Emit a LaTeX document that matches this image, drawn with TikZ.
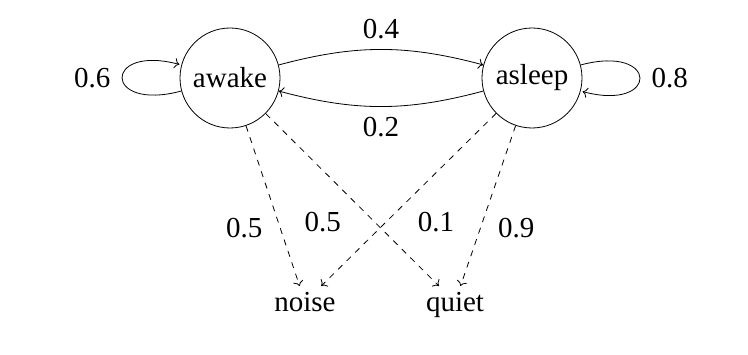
\documentclass[tikz,border=0pt]{standalone}
\usepackage{fontspec}
\setmainfont{Liberation Serif}
\usetikzlibrary{arrows.meta}

\begin{document}
\begin{tikzpicture}[x=0.5pt, y=0.5pt, every node/.style={font=\fontsize{14.5}{17}\selectfont}]
  \tikzset{
      state/.style={circle, draw, minimum size=50pt, inner sep=0pt},
      obs/.style={inner sep=3.3pt, text height=9pt, text depth=0pt},
      trans/.style={->, bend left=15},
      emit/.style={->, dashed}
  }
  \useasboundingbox (0,0) rectangle (748,354);

  \node[state] (awake)  at (230, 276) {awake};
  \node[state] (asleep) at (532, 276) {asleep};
  \node[obs, anchor=base] (noise) at (305, 43) {noise};
  \node[obs, anchor=base] (quiet) at (455, 43) {quiet};

  % transitions
  \draw[->] (awake)  edge[loop left]  node[xshift=-2.5pt] {0.6} ();
  \draw[->] (asleep) edge[loop right] node[xshift=2.5pt] {0.8} ();
  \draw[trans] (awake)  to node[above, yshift=1.5pt] {0.4} (asleep);
  \draw[trans] (asleep) to node[below, yshift=-2pt] {0.2} (awake);

  % emissions
  \draw[emit] (awake)  -- node[pos=0.64, xshift=-18pt] {0.5} (noise);
  \draw[emit] (awake)  -- node[pos=0.63, xshift=-26pt] {0.5} (quiet);
  \draw[emit] (asleep) -- node[pos=0.63, xshift=25pt]  {0.1} (noise);
  \draw[emit] (asleep) -- node[pos=0.64, xshift=18pt]  {0.9} (quiet);
\end{tikzpicture}
\end{document}
